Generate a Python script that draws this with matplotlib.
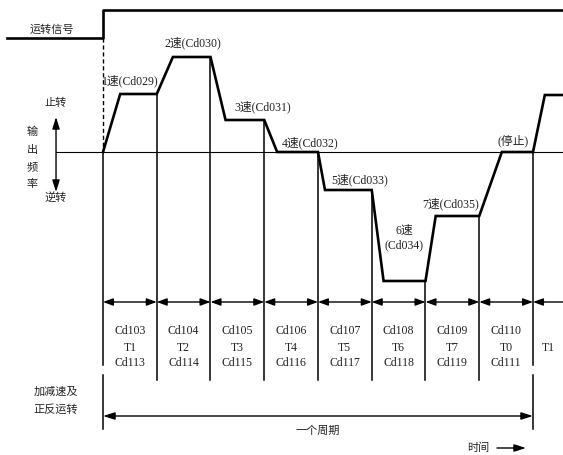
import matplotlib
matplotlib.use('Agg')
import matplotlib.pyplot as plt
import numpy as np

# speed profile: one segment per step, last one is the restart of the cycle
seg_speed = ['1速(Cd029)', '2速(Cd030)', '3速(Cd031)', '4速(Cd032)',
             '5速(Cd033)', '6速\n(Cd034)', '7速(Cd035)', '(停止)']
levels = [58, 95, 32, 0, -38, -129, -64, 0, 57]          # output frequency
ramps = [0.32, 0.30, 0.28, 0.24, 0.13, 0.22, 0.19, 0.42, 0.22]  # accel time
cell_top = ['Cd103', 'Cd104', 'Cd105', 'Cd106', 'Cd107', 'Cd108', 'Cd109', 'Cd110']
cell_mid = ['T1', 'T2', 'T3', 'T4', 'T5', 'T6', 'T7', 'T0']
cell_bot = ['Cd113', 'Cd114', 'Cd115', 'Cd116', 'Cd117', 'Cd118', 'Cd119', 'Cd111']
run_low, run_high = 114, 142

CJK = 'Noto Sans CJK SC'
MIX = ['Liberation Serif', CJK]
TXT = '#222222'

fig = plt.figure(figsize=(5.63, 4.55), dpi=100)
ax = fig.add_axes([0, 0, 1, 1])
ax.set_xlim(-103 / 53.75, 460 / 53.75)
ax.set_ylim(152 - 455, 152)
ax.axis('off')

# profile
t = [0.0]
f = [0.0]
for i, (lv, rp) in enumerate(zip(levels, ramps)):
    t += [i + rp, i + 1]
    f += [lv, lv]
ax.plot(t, f, color='black', lw=1.9, solid_joinstyle='miter')

# run signal
ax.plot([-1.79, 0, 0, 10], [run_low, run_low, run_high, run_high],
        color='black', lw=1.9)
ax.plot([0, 0], [run_low, 0], color='black', lw=1.0, ls=(0, (3, 2)))
ax.text(-0.95, 122, '运转信号', family=CJK, fontsize=8, color=TXT,
        ha='center', va='center')

# zero line
ax.plot([-0.874, 10], [0, 0], color='black', lw=0.8)

# boundary lines
n = len(cell_top)
for i in range(n + 1):
    top = 0 if i == 0 else levels[i - 1]
    if i in (0, n):
        ax.plot([i, i], [top, -213], color='black', lw=1.1)
        ax.plot([i, i], [-223, -277], color='black', lw=1.1)
    else:
        ax.plot([i, i], [top, -228], color='black', lw=1.1)

# segment arrows and cells
akw = dict(color='black', lw=1.0, shrinkA=0, shrinkB=0)
for i in range(n):
    ax.annotate('', xy=(i + 1, -150), xytext=(i, -150),
                arrowprops=dict(arrowstyle='<|-|>,head_length=0.6,head_width=0.22',
                                mutation_scale=10, **akw))
    for y, s in zip([-179, -196, -211], [cell_top[i], cell_mid[i], cell_bot[i]]):
        ax.text(i + 0.5, y, s, family=MIX, fontsize=8.5, color=TXT,
                ha='center', va='center')
ax.annotate('', xy=(n, -150), xytext=(n + 0.6, -150),
            arrowprops=dict(arrowstyle='-|>,head_length=0.6,head_width=0.22',
                            mutation_scale=10, **akw))
ax.text(n + 0.28, -196, 'T1', family=MIX, fontsize=8.5, color=TXT,
        ha='center', va='center')

# speed labels
lab_pos = [(-0.02, 71), (1.153, 109), (2.437, 45), (3.33, 9),
           (4.242, -28), (5.6, -86), (5.935, -52), (7.63, 11)]
for (x, y), s in zip(lab_pos, seg_speed):
    ha = 'center' if '\n' in s or s.startswith('(') else 'left'
    ax.text(x, y, s, family=MIX, fontsize=8.5, color=TXT, ha=ha, va='center',
            linespacing=1.3)

# frequency axis label
ax.annotate('', xy=(-0.874, 35), xytext=(-0.874, -40),
            arrowprops=dict(arrowstyle='<|-|>,head_length=0.7,head_width=0.22',
                            mutation_scale=10, **akw))
ax.text(-0.874, 49, '止转', family=CJK, fontsize=8, color=TXT, ha='center', va='center')
ax.text(-0.874, -45, '逆转', family=CJK, fontsize=8, color=TXT, ha='center', va='center')
for y, ch in zip([20, 2, -15, -32], '输出频率'):
    ax.text(-1.321, y, ch, family=CJK, fontsize=8, color=TXT, ha='center', va='center')

# cycle
ax.annotate('', xy=(n, -264), xytext=(0, -264),
            arrowprops=dict(arrowstyle='<|-|>,head_length=0.7,head_width=0.22',
                            mutation_scale=10, **akw))
ax.text(n / 2, -279, '一个周期', family=CJK, fontsize=8, color=TXT, ha='center', va='center')
ax.text(-0.884, -240, '加减速及', family=CJK, fontsize=8, color=TXT, ha='center', va='center')
ax.text(-0.884, -257, '正反运转', family=CJK, fontsize=8, color=TXT, ha='center', va='center')

# time
ax.text(6.986, -296, '时间', family=CJK, fontsize=8, color=TXT, ha='center', va='center')
ax.annotate('', xy=(7.87, -296), xytext=(7.33, -296),
            arrowprops=dict(arrowstyle='-|>,head_length=0.7,head_width=0.22',
                            mutation_scale=10, **akw))

fig.savefig('out.png', dpi=100)
